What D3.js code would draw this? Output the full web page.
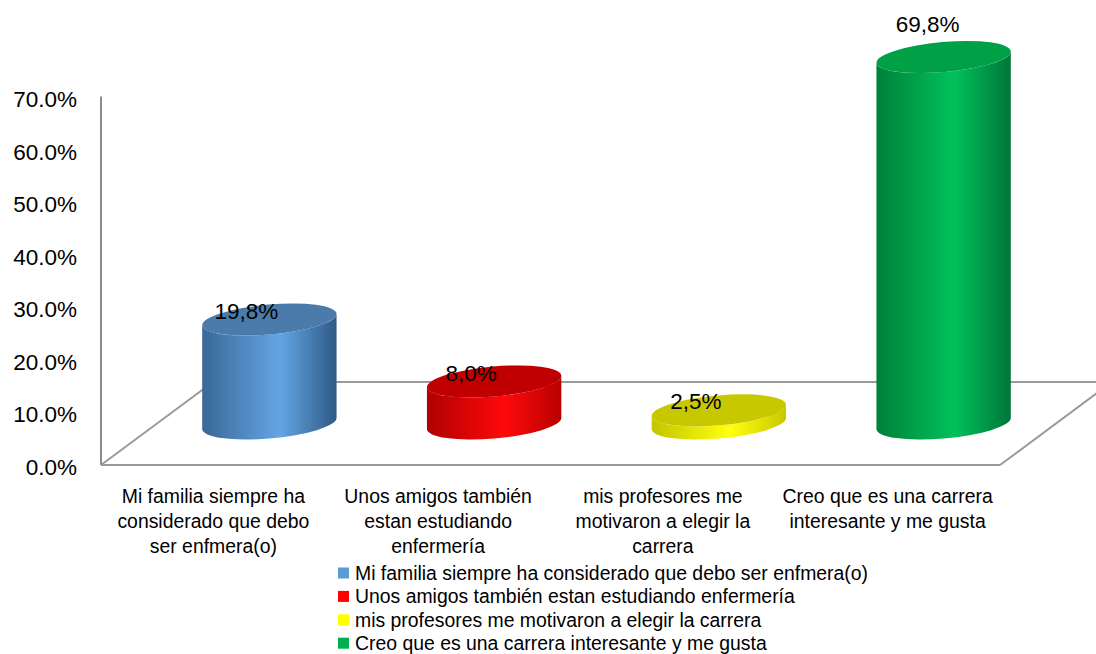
<!DOCTYPE html>
<html>
<head>
<meta charset="utf-8">
<script src="https://cdn.jsdelivr.net/npm/d3@7"></script>
<style>
  body { margin: 0; background: #fff; }
  svg text { font-family: "Liberation Sans", Arial, sans-serif; fill: #000; }
</style>
</head>
<body>
<div id="chart"></div>
<script>
// data
const categories = [
    "Mi familia siempre ha considerado que debo ser enfmera(o)",
    "Unos amigos también estan estudiando enfermería",
    "mis profesores me motivaron a elegir la carrera",
    "Creo que es una carrera interesante y me gusta"
];
const values = [0.198, 0.080, 0.025, 0.698];
const yTicks = [0, 0.1, 0.2, 0.3, 0.4, 0.5, 0.6, 0.7];

// palette: [edge, highlight, other edge] for the sides, then top and legend
const sideColors = [
    ["#3a6898", "#63a5e3", "#2f5a86"],
    ["#b00000", "#ff0a0a", "#b80000"],
    ["#c4c400", "#ffff10", "#c8c800"],
    ["#00803a", "#00c25a", "#00753a"]
];
const topColors = ["#4a7bab", "#c00000", "#c8c800", "#00a047"];
const legendColors = ["#5b9bd5", "#ff0000", "#ffff00", "#00b050"];

const width = 1096, height = 654;
const depth = { dx: 112, dy: 83 };
const tilt = -5;

const svg = d3.select("#chart").append("svg")
    .attr("width", width)
    .attr("height", height);

const x = d3.scaleBand()
    .domain(categories)
    .range([101, 1000])
    .padding(0);

const y = d3.scaleLinear()
    .domain([0, 0.7])
    .range([465, 97.5]);

const fmt = d3.format(".1f");
const defs = svg.append("defs");

// floor (back edge + left diagonal sit behind the cylinders)
const x0 = x.range()[0], x1 = x.range()[1], y0 = y(0);
svg.append("clipPath").attr("id", "clip")
    .append("rect").attr("width", width).attr("height", height);

const floorBack = svg.append("g")
    .attr("stroke", "#9a9a9a")
    .attr("stroke-width", 2)
    .attr("fill", "none");
floorBack.append("line")
    .attr("x1", x0 + depth.dx).attr("y1", y0 - depth.dy)
    .attr("x2", x1 + depth.dx).attr("y2", y0 - depth.dy);
floorBack.append("line")
    .attr("x1", x0).attr("y1", y0)
    .attr("x2", x0 + depth.dx).attr("y2", y0 - depth.dy);

// axis line + tick labels
svg.append("line")
    .attr("x1", x0).attr("x2", x0)
    .attr("y1", y(0.7) - 1).attr("y2", y0)
    .attr("stroke", "#8c8c8c")
    .attr("stroke-width", 2);

svg.append("g")
    .selectAll("text")
    .data(yTicks)
    .join("text")
    .attr("x", 77)
    .attr("y", d => y(d) + 2)
    .attr("dy", "0.35em")
    .attr("text-anchor", "end")
    .style("font-size", "22.5px")
    .text(d => d3.format(".1%")(d));

// cylinders
function ellPoint(cx, cy, rx, ry, t) {
    const a = tilt * Math.PI / 180;
    const px = rx * Math.cos(t), py = ry * Math.sin(t);
    return [cx + px * Math.cos(a) - py * Math.sin(a), cy + px * Math.sin(a) + py * Math.cos(a)];
}

const rx = x.bandwidth() * 0.3;
const ry = 15;
const baseY = y0 - depth.dy / 2;

const bars = svg.append("g")
    .selectAll("g")
    .data(categories)
    .join("g");

bars.each(function (c, i) {
    const g = d3.select(this);
    const cx = x(c) + x.bandwidth() / 2 + depth.dx / 2;
    const topY = baseY - (y0 - y(values[i]));
    const a = tilt * Math.PI / 180;
    const t0 = Math.atan2(-ry * Math.sin(a), rx * Math.cos(a));
    const bR = ellPoint(cx, baseY, rx, ry, t0), bL = ellPoint(cx, baseY, rx, ry, t0 + Math.PI);
    const tR = ellPoint(cx, topY, rx, ry, t0), tL = ellPoint(cx, topY, rx, ry, t0 + Math.PI);

    const gid = "side" + i;
    const grad = defs.append("linearGradient").attr("id", gid)
        .attr("x1", 0).attr("x2", 1).attr("y1", 0).attr("y2", 0);
    grad.append("stop").attr("offset", "0%").attr("stop-color", sideColors[i][0]);
    grad.append("stop").attr("offset", "58%").attr("stop-color", sideColors[i][1]);
    grad.append("stop").attr("offset", "100%").attr("stop-color", sideColors[i][2]);

    g.append("path")
        .attr("d", `M${tL}L${bL}A${rx},${ry} ${tilt} 0 0 ${bR}L${tR}A${rx},${ry} ${tilt} 0 1 ${tL}Z`)
        .attr("fill", `url(#${gid})`);

    g.append("ellipse")
        .attr("cx", 0).attr("cy", 0)
        .attr("rx", rx).attr("ry", ry)
        .attr("transform", `translate(${cx},${topY}) rotate(${tilt})`)
        .attr("fill", topColors[i]);

    // data label
    const high = values[i] > 0.6;
    g.append("text")
        .attr("x", cx - (high ? 16 : 23))
        .attr("y", high ? topY - 25 : topY - 1)
        .attr("text-anchor", "middle")
        .style("font-size", "22.5px")
        .text(fmt(values[i] * 100).replace(".", ",") + "%");
});

// floor front edge + right diagonal
const floorFront = svg.append("g")
    .attr("stroke", "#9a9a9a")
    .attr("stroke-width", 2)
    .attr("fill", "none");
floorFront.append("line")
    .attr("x1", x0).attr("y1", y0)
    .attr("x2", x1).attr("y2", y0);
floorFront.append("line")
    .attr("x1", x1).attr("y1", y0)
    .attr("x2", x1 + depth.dx).attr("y2", y0 - depth.dy);

// category labels, wrapped to the band
const catText = svg.append("g")
    .selectAll("text")
    .data(categories)
    .join("text")
    .attr("text-anchor", "middle")
    .style("font-size", "19.4px");

catText.each(function (c) {
    const t = d3.select(this);
    const cx = x(c) + x.bandwidth() / 2;
    const words = c.split(" ");
    let lines = [], line = [];
    const probe = t.append("tspan");
    words.forEach(w => {
        line.push(w);
        probe.text(line.join(" "));
        if (probe.node().getComputedTextLength() > 215 && line.length > 1) {
            line.pop();
            lines.push(line.join(" "));
            line = [w];
        }
    });
    lines.push(line.join(" "));
    probe.remove();
    lines.forEach((l, k) => {
        t.append("tspan").attr("x", cx).attr("y", 503 + k * 25).text(l);
    });
});

// legend
const legend = svg.append("g")
    .selectAll("g")
    .data(categories)
    .join("g")
    .attr("transform", (d, i) => `translate(338,${573 + i * 23.4})`);

legend.append("rect")
    .attr("x", 0).attr("y", -5.5)
    .attr("width", 11).attr("height", 11)
    .attr("fill", (d, i) => legendColors[i]);

legend.append("text")
    .attr("x", 17)
    .attr("y", 7)
    .style("font-size", "19.4px")
    .text(d => d);
</script>
</body>
</html>
